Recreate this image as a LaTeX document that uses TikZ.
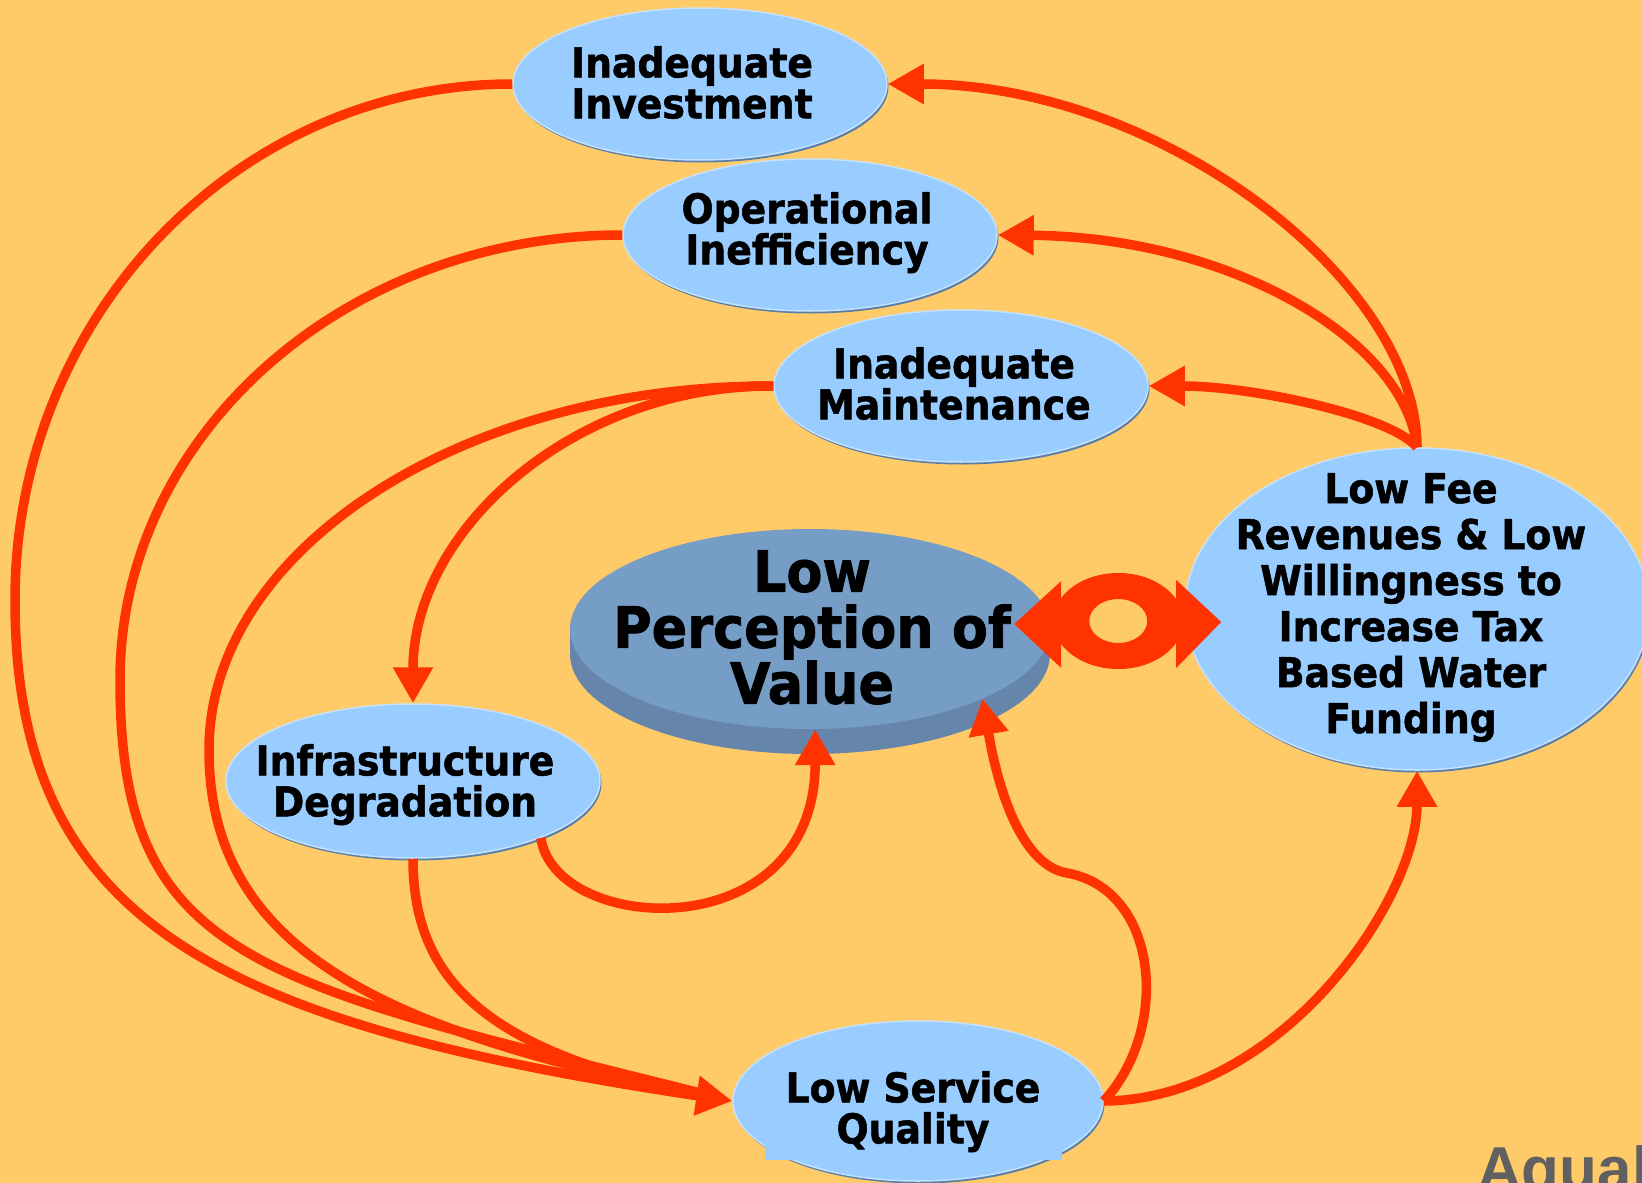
\documentclass[tikz,border=0pt]{standalone}
\usepackage{fontspec}
\setmainfont{DejaVu Sans}[FakeStretch=0.92, BoldFeatures={FakeBold=1.3}]
\newfontfamily\brandfont{Liberation Sans}
\usetikzlibrary{shapes.geometric,arrows.meta,shadows,calc}

\definecolor{paper}{HTML}{FFCB69}
\definecolor{flowred}{HTML}{FF3300}
\definecolor{cellblue}{HTML}{99CCFF}
\definecolor{cellrim}{HTML}{C4E2FF}
\definecolor{cellshade}{HTML}{5A7EA6}
\definecolor{diskface}{HTML}{769DC5}
\definecolor{diskside}{HTML}{6685AA}
\definecolor{brandgray}{HTML}{606060}

\tikzset{
	cell/.style={ellipse, fill=cellblue, draw=cellrim, line width=1.5pt, inner sep=0pt,
		minimum width=374pt, minimum height=152pt,
		drop shadow={shadow xshift=1.5pt, shadow yshift=-2.5pt, fill=cellshade, opacity=1}},
	celltext/.style={anchor=north, align=center, inner sep=0pt, font=\fontsize{41}{41}\selectfont\bfseries},
	flow/.style={draw=flowred, line width=9.5pt, -{Triangle[length=36pt,width=38pt]}},
	feed/.style={draw=flowred, line width=9.5pt, shorten >=30pt}
}

\begin{document}
\begin{tikzpicture}[x=1pt,y=-1pt]
	\fill[paper] (0,0) rectangle (1642,1183);
	\useasboundingbox (0,0) rectangle (1642,1183);
	
	%causes (top)
	\node[cell] (inv) at (700,84) {};
	\node[cell] (opi) at (810,235) {};
	\node[cell] (im) at (961,386) {};
	
	%effects
	\node[cell, minimum height=154pt] (id) at (413,781) {};
	\node[cell, minimum width=370pt, minimum height=160pt] (lsq) at (918,1101) {};
	\fill[cellblue] (765,1128) rectangle (1062,1160);
	\node[cell, minimum width=464pt, minimum height=322pt] (lf) at (1417,609) {};
	
	%center disk
	\fill[diskside] (810,654) ellipse (240 and 100);
	\fill[diskside] (570,629) rectangle (1050,654);
	\node[ellipse, fill=diskface, inner sep=0pt, minimum width=480pt, minimum height=200pt] (lpv) at (810,629) {};
	
	%texts
	\node[celltext] (invtext) at (692,46) {Inadequate\\Investment};
	\node[celltext] (opitext) at (807,192) {Operational\\Inefficiency};
	\node[celltext] (imtext) at (954,347) {Inadequate\\Maintenance};
	\node[celltext] (idtext) at (405,744) {Infrastructure\\Degradation};
	\node[celltext] (lsqtext) at (913,1071) {Low Service\\Quality};
	\node[celltext, font=\fontsize{41}{46}\selectfont\bfseries] (lftext) at (1411,473)
		{Low Fee\\Revenues \& Low\\Willingness to\\Increase Tax\\Based Water\\Funding};
	\node[celltext, font=\fontsize{57}{56}\selectfont\bfseries] (lpvtext) at (812,550) {Low\\Perception of\\Value};
	
	%left arcs into service quality
	\draw[feed] (im.west) .. controls (463,385) and (209,549) .. (209,750) .. controls (209,950) and (383,1031) .. (lsq.west);
	\draw[feed] (opi.west) .. controls (346,235) and (120,434) .. (120,680) .. controls (120,960) and (253,981) .. (lsq.west);
	\draw[feed] (id.south) .. controls (413,978) and (483,1051) .. (lsq.west);
	\draw[flow] (inv.west) .. controls (239,84) and (15,315) .. (15,600) .. controls (15,920) and (213,1023) .. (lsq.west);
	
	%maintenance to degradation, degradation to perception
	\draw[flow] (im.west) .. controls (576,385) and (413,528) .. (id.north);
	\draw[flow] (id.-24) .. controls (555,935) and (815,950) .. (lpv.-87);
	
	%service quality out
	\draw[flow] (lsq.east) .. controls (1170,1030) and (1160,890) .. (1067,873) .. controls (1025,866) and (1000,800) .. (lpv.-22);
	\draw[flow] (lsq.east) .. controls (1280,1100) and (1417,900) .. (lf.south);
	
	%revenues back to causes
	\draw[flow] (lf.north) .. controls (1417,280) and (1160,84) .. (inv.east);
	\draw[flow] (lf.north) .. controls (1405,340) and (1230,237) .. (opi.east);
	\draw[flow] (lf.north) .. controls (1390,415) and (1250,386) .. (im.east);
	
	%two-way link
	\coordinate (eye) at ($(lpv.east)!0.5!(lf.west)$);
	\begin{scope}[shift={(eye)}]
		\fill[flowred, even odd rule] (1,2) ellipse (65 and 48) (1,2) ellipse (29 and 22);
		\fill[flowred] (-103,5) -- (-56,-38) -- (-56,49) -- cycle;
		\fill[flowred] (104,3) -- (59,-39) -- (59,49) -- cycle;
	\end{scope}
	
	\node[anchor=base west, inner sep=0pt, text=brandgray, font=\brandfont\fontsize{62}{62}\selectfont\bfseries] (brand) at (1477,1190) {Aqual};
\end{tikzpicture}
\end{document}
